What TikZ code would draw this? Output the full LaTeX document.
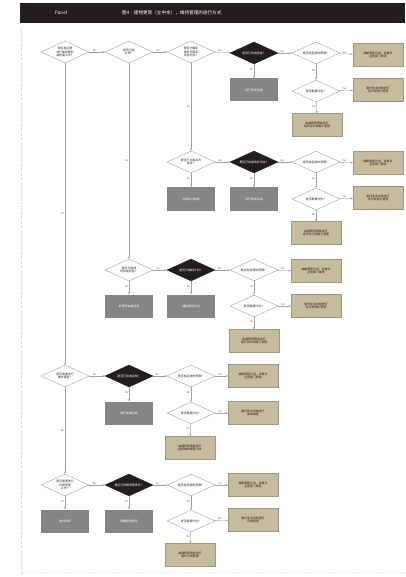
\documentclass[tikz,border=0pt]{standalone}
\usepackage{fontspec}
\newfontfamily\cjk{Noto Sans CJK SC}
\usetikzlibrary{shapes.geometric,arrows.meta}
\definecolor{hdr}{HTML}{221E1F}
\definecolor{tanbox}{HTML}{C6BB9C}
\definecolor{slab}{HTML}{858585}
\definecolor{edgecol}{HTML}{A0A0A0}

\tikzset{
  every node/.style={font=\cjk\fontsize{2.9}{3.5}\selectfont, align=center, inner sep=0pt},
  q/.style={diamond, aspect=2.2, draw=edgecol, line width=0.4pt, fill=white,
            minimum width=48pt, minimum height=22pt, text=black!85},
  qb/.style={diamond, aspect=2.2, fill=hdr, draw=hdr,
             minimum width=48pt, minimum height=22pt, text=white},
  act/.style={rectangle, fill=slab, minimum width=48pt, minimum height=23pt, text=white},
  res/.style={rectangle, fill=tanbox, draw=tanbox!80!black, line width=0.3pt,
              minimum width=50pt, minimum height=23pt, text=black!90},
  flow/.style={draw=edgecol, line width=0.4pt, -{Stealth[length=2.2pt,width=2pt]}},
  lab/.style={font=\cjk\fontsize{2.5}{3}\selectfont, text=black!65, inner sep=0.6pt},
}

\begin{document}
\begin{tikzpicture}[x=1pt,y=-1pt]
\useasboundingbox (0,0) rectangle (405,577);

% header bar
\fill[hdr] (20,3) rectangle (405,23);
\node[font=\cjk\fontsize{4.6}{5.4}\selectfont, text=white, anchor=west] (hpanel) at (55,13) {Panel};
\node[font=\cjk\fontsize{4.6}{5.4}\selectfont, text=white, anchor=west] (htitle) at (122,13)
  {图4・建物更新（立中本），维持管理的进行方式};

% page guides
\draw[gray!45, dotted, line width=0.5pt] (21,28) -- (21,575);
\draw[gray!20, dotted, line width=0.4pt] (23,572) -- (405,572);

% ---------- row 1 ----------
\node[q]  (d1) at (65,52)  {是否有必要\\进行建筑更新\\或修缮工作？};
\node[q]  (d2) at (129,52) {是否已经\\立项？};
\node[q]  (d3) at (191,52) {是否已确定\\更新范围和\\实施计划？};
\node[qb] (d4) at (254,53) {是否已完成调查？};
\node[q]  (d5) at (316,53) {是否有足够的预算？};
\node[res] (r1) at (378,55) {编制更新计划，并提交\\主管部门审批};
\node[act] (a1) at (254,90) {进行现状调查};
\node[q]  (d6) at (316,91) {是否需要外包？};
\node[res] (r2) at (378,90) {委托专业机构进行\\设计和施工管理};
\node[res] (r3) at (317,125) {由建筑管理者自行\\组织设计和施工管理};

% ---------- row 2 ----------
\node[q]  (d7) at (191,162) {是否已与相关方\\协商？};
\node[qb] (d8) at (254,162) {是否已完成现状评估？};
\node[q]  (d9) at (316,162) {是否有足够的预算？};
\node[res] (r4) at (378,163) {编制更新计划，并提交\\主管部门审批};
\node[act] (a2) at (191,199) {与相关方协商};
\node[act] (a3) at (254,199) {进行现状评估};
\node[q]  (d10) at (316,199) {是否需要外包？};
\node[res] (r5) at (378,198) {委托专业机构进行\\设计和施工管理};
\node[res] (r6) at (316,233) {由建筑管理者自行\\组织设计和施工管理};

% ---------- row 3 ----------
\node[q]  (d11) at (129,270) {是否已取得\\所有者同意？};
\node[qb] (d12) at (191,270) {是否已编制计划？};
\node[q]  (d13) at (254,270) {是否有足够的预算？};
\node[res] (r7) at (316,271) {编制更新计划，并提交\\主管部门审批};
\node[act] (a4) at (129,306) {取得所有者同意};
\node[act] (a5) at (191,306) {编制更新计划};
\node[q]  (d14) at (254,306) {是否需要外包？};
\node[res] (r8) at (316,306) {委托专业机构进行\\设计和施工管理};
\node[res] (r9) at (254,341) {由建筑管理者自行\\组织设计和施工管理};

% ---------- row 4 ----------
\node[q]  (d15) at (65,376)  {是否需要进行\\维持保管？};
\node[qb] (d16) at (129,376) {是否已完成点检？};
\node[q]  (d17) at (191,376) {是否有足够的预算？};
\node[res] (r10) at (253,376) {编制保管计划，并提交\\主管部门审批};
\node[act] (a6) at (129,413) {进行定期点检};
\node[q]  (d18) at (191,413) {是否需要外包？};
\node[res] (r11) at (253,413) {委托专业机构进行\\维持保管};
\node[res] (r12) at (190,448) {由建筑管理者自行\\组织维持保管工作};

% ---------- row 5 ----------
\node[q]  (d19) at (65,485)  {是否需要进行\\日常管理\\工作？};
\node[qb] (d20) at (129,485) {是否已明确管理责任？};
\node[q]  (d21) at (191,485) {是否有足够的预算？};
\node[res] (r13) at (253,485) {编制管理计划，并提交\\主管部门审批};
\node[act] (a7) at (65,521)  {维持现状};
\node[act] (a8) at (129,521) {明确管理责任};
\node[q]  (d22) at (191,521) {是否需要外包？};
\node[res] (r14) at (253,520) {委托专业机构进行\\日常管理};
\node[res] (r15) at (190,555) {由建筑管理者自行\\组织日常管理};

% ---------- connectors ----------
% row 1
\draw[flow] (d1) -- node[lab, above, pos=0.35] {Yes} (d2);
\draw[flow] (d2) -- node[lab, above, pos=0.35] {Yes} (d3);
\draw[flow] (d3) -- node[lab, above, pos=0.35] {Yes} (d4);
\draw[flow] (d4) -- node[lab, above, pos=0.3] {Yes} (d5);
\draw[flow] (d5) -- node[lab, above, pos=0.4] {Yes} (r1);
\draw[flow] (d4) -- node[lab, left, pos=0.4] {No} (a1);
\draw[flow] (d5) -- node[lab, left, pos=0.4] {No} (d6);
\draw[flow] (d6) -- node[lab, above, pos=0.4] {Yes} (r2);
\draw[flow] (d6) -- node[lab, left, pos=0.4] {No} (r3);

% long drops between rows
\draw[flow] (d3) -- node[lab, left, pos=0.5] {No} (d7);
\draw[flow] (d2) -- node[lab, left, pos=0.5] {No} (d11);
\draw[flow] (d1) -- node[lab, left, pos=0.5] {No} (d15);
\draw[flow] (d15) -- node[lab, left, pos=0.5] {No} (d19);

% row 2
\draw[flow] (d7) -- node[lab, above, pos=0.35] {Yes} (d8);
\draw[flow] (d8) -- node[lab, above, pos=0.3] {Yes} (d9);
\draw[flow] (d9) -- node[lab, above, pos=0.4] {Yes} (r4);
\draw[flow] (d7) -- node[lab, left, pos=0.4] {No} (a2);
\draw[flow] (d8) -- node[lab, left, pos=0.4] {No} (a3);
\draw[flow] (d9) -- node[lab, left, pos=0.4] {No} (d10);
\draw[flow] (d10) -- node[lab, above, pos=0.4] {Yes} (r5);
\draw[flow] (d10) -- node[lab, left, pos=0.4] {No} (r6);

% row 3
\draw[flow] (d11) -- node[lab, above, pos=0.35] {Yes} (d12);
\draw[flow] (d12) -- node[lab, above, pos=0.3] {Yes} (d13);
\draw[flow] (d13) -- node[lab, above, pos=0.4] {Yes} (r7);
\draw[flow] (d11) -- node[lab, left, pos=0.4] {No} (a4);
\draw[flow] (d12) -- node[lab, left, pos=0.4] {No} (a5);
\draw[flow] (d13) -- node[lab, left, pos=0.4] {No} (d14);
\draw[flow] (d14) -- node[lab, above, pos=0.4] {Yes} (r8);
\draw[flow] (d14) -- node[lab, left, pos=0.4] {No} (r9);

% row 4
\draw[flow] (d15) -- node[lab, above, pos=0.35] {Yes} (d16);
\draw[flow] (d16) -- node[lab, above, pos=0.3] {Yes} (d17);
\draw[flow] (d17) -- node[lab, above, pos=0.4] {Yes} (r10);
\draw[flow] (d16) -- node[lab, left, pos=0.4] {No} (a6);
\draw[flow] (d17) -- node[lab, left, pos=0.4] {No} (d18);
\draw[flow] (d18) -- node[lab, above, pos=0.4] {Yes} (r11);
\draw[flow] (d18) -- node[lab, left, pos=0.4] {No} (r12);

% row 5
\draw[flow] (d19) -- node[lab, above, pos=0.35] {Yes} (d20);
\draw[flow] (d20) -- node[lab, above, pos=0.3] {Yes} (d21);
\draw[flow] (d21) -- node[lab, above, pos=0.4] {Yes} (r13);
\draw[flow] (d19) -- node[lab, left, pos=0.4] {No} (a7);
\draw[flow] (d20) -- node[lab, left, pos=0.4] {No} (a8);
\draw[flow] (d21) -- node[lab, left, pos=0.4] {No} (d22);
\draw[flow] (d22) -- node[lab, above, pos=0.4] {Yes} (r14);
\draw[flow] (d22) -- node[lab, left, pos=0.4] {No} (r15);
\end{tikzpicture}
\end{document}
